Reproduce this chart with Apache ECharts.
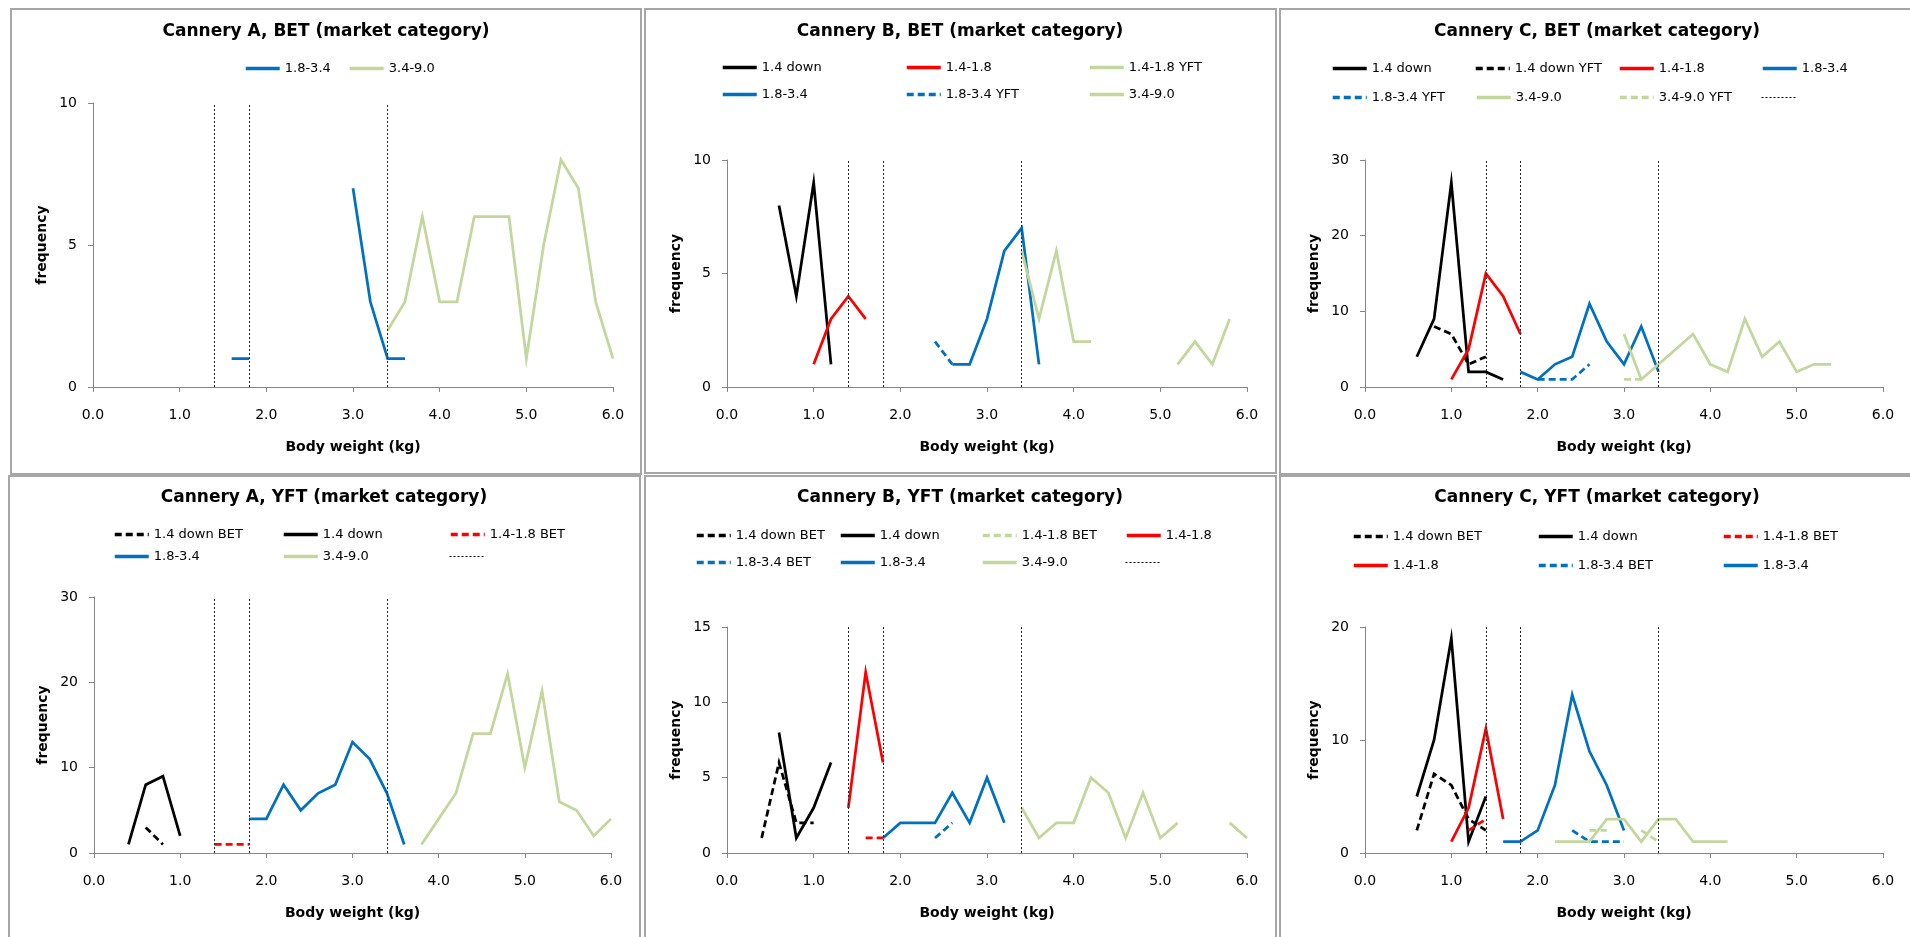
<!DOCTYPE html>
<html>
<head>
<meta charset="utf-8">
<script src="https://cdn.jsdelivr.net/npm/echarts@6/dist/echarts.min.js"></script>
<style>
  html, body { margin: 0; padding: 0; background: #ffffff; }
  #chart { width: 1910px; height: 937px; }
</style>
</head>
<body>
<div id="chart"></div>
<script>
// ---------------- DATA (body weight kg, frequency); null = gap ----------------
const refWeights = [1.4, 1.8, 3.4];
const xTicks = [0, 1, 2, 3, 4, 5, 6];

// Cannery A, BET
const aBet_18_34 = [[1.6,1],[1.8,1],null,[3.0,7],[3.2,3],[3.4,1],[3.6,1]];
const aBet_34_90 = [[3.4,2],[3.6,3],[3.8,6],[4.0,3],[4.2,3],[4.4,6],[4.6,6],[4.8,6],[5.0,1],[5.2,5],[5.4,8],[5.6,7],[5.8,3],[6.0,1]];

// Cannery B, BET
const bBet_14down = [[0.6,8],[0.8,4],[1.0,9],[1.2,1]];
const bBet_14_18 = [[1.0,1],[1.2,3],[1.4,4],[1.6,3]];
const bBet_14_18yft = [];
const bBet_18_34 = [[2.6,1],[2.8,1],[3.0,3],[3.2,6],[3.4,7],[3.6,1]];
const bBet_18_34yft = [[2.4,2],[2.6,1]];
const bBet_34_90 = [[3.4,6],[3.6,3],[3.8,6],[4.0,2],[4.2,2],null,[5.2,1],[5.4,2],[5.6,1],[5.8,3]];

// Cannery C, BET
const cBet_14down = [[0.6,4],[0.8,9],[1.0,27],[1.2,2],[1.4,2],[1.6,1]];
const cBet_14downyft = [[0.8,8],[1.0,7],[1.2,3],[1.4,4]];
const cBet_14_18 = [[1.0,1],[1.2,5],[1.4,15],[1.6,12],[1.8,7]];
const cBet_18_34 = [[1.8,2],[2.0,1],[2.2,3],[2.4,4],[2.6,11],[2.8,6],[3.0,3],[3.2,8],[3.4,2]];
const cBet_18_34yft = [[2.0,1],[2.2,1],[2.4,1],[2.6,3]];
const cBet_34_90 = [[3.0,7],[3.2,1],[3.4,3],[3.6,5],[3.8,7],[4.0,3],[4.2,2],[4.4,9],[4.6,4],[4.8,6],[5.0,2],[5.2,3],[5.4,3]];
const cBet_34_90yft = [[3.0,1],[3.2,1]];

// Cannery A, YFT
const aYft_14downbet = [[0.6,3],[0.8,1]];
const aYft_14down = [[0.4,1],[0.6,8],[0.8,9],[1.0,2]];
const aYft_14_18bet = [[1.4,1],[1.6,1],[1.8,1]];
const aYft_18_34 = [[1.8,4],[2.0,4],[2.2,8],[2.4,5],[2.6,7],[2.8,8],[3.0,13],[3.2,11],[3.4,7],[3.6,1]];
const aYft_34_90 = [[3.8,1],[4.0,4],[4.2,7],[4.4,14],[4.6,14],[4.8,21],[5.0,10],[5.2,19],[5.4,6],[5.6,5],[5.8,2],[6.0,4]];

// Cannery B, YFT
const bYft_14downbet = [[0.4,1],[0.6,6],[0.8,2],[1.0,2]];
const bYft_14down = [[0.6,8],[0.8,1],[1.0,3],[1.2,6]];
const bYft_14_18bet = [[1.6,1],[1.8,1]];
const bYft_14_18 = [[1.4,3],[1.6,12],[1.8,6]];
const bYft_18_34bet = [[2.4,1],[2.6,2]];
const bYft_18_34 = [[1.8,1],[2.0,2],[2.2,2],[2.4,2],[2.6,4],[2.8,2],[3.0,5],[3.2,2]];
const bYft_34_90 = [[3.4,3],[3.6,1],[3.8,2],[4.0,2],[4.2,5],[4.4,4],[4.6,1],[4.8,4],[5.0,1],[5.2,2],null,[5.8,2],[6.0,1]];

// Cannery C, YFT
const cYft_14downbet = [[0.6,2],[0.8,7],[1.0,6],[1.2,3],[1.4,2]];
const cYft_14down = [[0.6,5],[0.8,10],[1.0,19],[1.2,1],[1.4,5]];
const cYft_14_18bet = [[1.2,2],[1.4,3]];
const cYft_14_18 = [[1.0,1],[1.2,4],[1.4,11],[1.6,3]];
const cYft_18_34bet = [[2.4,2],[2.6,1],[2.8,1],[3.0,1]];
const cYft_18_34 = [[1.6,1],[1.8,1],[2.0,2],[2.2,6],[2.4,14],[2.6,9],[2.8,6],[3.0,2]];
const cYft_34_90 = [[2.2,1],[2.4,1],[2.6,1],[2.8,3],[3.0,3],[3.2,1],[3.4,3],[3.6,3],[3.8,1],[4.0,1],[4.2,1]];
const cYft_34_90bet = [[2.6,2],[2.8,2],null,[3.2,2],[3.4,1]];

// ---------------- STYLE ----------------
const BLACK = '#000000', RED = '#FF0000', BLUE = '#0070C0', GREEN = '#C3D69B';
const DASH = [7, 4];
const FONT = "'Comic Sans MS', 'DejaVu Sans', sans-serif";
const LW = 2.75;

const panels = [
  { title: 'Cannery A, BET (market category)', box: [11, 9, 641, 474], titleXY: [326, 34],
    grid: { left: 93, top: 103, width: 520, height: 284 }, yMax: 10, yInt: 5,
    series: [
      { name: '1.8-3.4', data: aBet_18_34, color: BLUE },
      { name: '3.4-9.0', data: aBet_34_90, color: GREEN }
    ],
    legend: [['1.8-3.4', 244, 69], ['3.4-9.0', 348, 69]] },
  { title: 'Cannery B, BET (market category)', box: [645, 9, 1276, 473], titleXY: [960, 34],
    grid: { left: 727, top: 160, width: 520, height: 227 }, yMax: 10, yInt: 5,
    series: [
      { name: '1.4 down', data: bBet_14down, color: BLACK },
      { name: '1.4-1.8', data: bBet_14_18, color: RED },
      { name: '1.4-1.8 YFT', data: bBet_14_18yft, color: GREEN },
      { name: '1.8-3.4', data: bBet_18_34, color: BLUE },
      { name: '1.8-3.4 YFT', data: bBet_18_34yft, color: BLUE, dash: true },
      { name: '3.4-9.0', data: bBet_34_90, color: GREEN }
    ],
    legend: [['1.4 down', 721, 68], ['1.4-1.8', 905, 68], ['1.4-1.8 YFT', 1088, 68],
             ['1.8-3.4', 721, 95], ['1.8-3.4 YFT', 905, 95], ['3.4-9.0', 1088, 95]] },
  { title: 'Cannery C, BET (market category)', box: [1280, 9, 1912, 474], titleXY: [1597, 34],
    grid: { left: 1365, top: 160, width: 518, height: 227 }, yMax: 30, yInt: 10,
    series: [
      { name: '1.4 down', data: cBet_14down, color: BLACK },
      { name: '1.4 down YFT', data: cBet_14downyft, color: BLACK, dash: true },
      { name: '1.4-1.8', data: cBet_14_18, color: RED },
      { name: '1.8-3.4', data: cBet_18_34, color: BLUE },
      { name: '1.8-3.4 YFT', data: cBet_18_34yft, color: BLUE, dash: true },
      { name: '3.4-9.0', data: cBet_34_90, color: GREEN },
      { name: '3.4-9.0 YFT', data: cBet_34_90yft, color: GREEN, dash: true }
    ],
    legend: [['1.4 down', 1331, 69], ['1.4 down YFT', 1474, 69], ['1.4-1.8', 1618, 69], ['1.8-3.4', 1761, 69],
             ['1.8-3.4 YFT', 1331, 98], ['3.4-9.0', 1475, 98], ['3.4-9.0 YFT', 1618, 98], [' ', 1761, 98]] },
  { title: 'Cannery A, YFT (market category)', box: [9, 476, 640, 940], titleXY: [324, 500],
    grid: { left: 94, top: 597, width: 517, height: 256 }, yMax: 30, yInt: 10,
    series: [
      { name: '1.4 down BET', data: aYft_14downbet, color: BLACK, dash: true },
      { name: '1.4 down', data: aYft_14down, color: BLACK },
      { name: '1.4-1.8 BET', data: aYft_14_18bet, color: RED, dash: true },
      { name: '1.8-3.4', data: aYft_18_34, color: BLUE },
      { name: '3.4-9.0', data: aYft_34_90, color: GREEN }
    ],
    legend: [['1.4 down BET', 113, 535], ['1.4 down', 282, 535], ['1.4-1.8 BET', 449, 535],
             ['1.8-3.4', 113, 557], ['3.4-9.0', 282, 557], [' ', 449, 557]] },
  { title: 'Cannery B, YFT (market category)', box: [645, 476, 1276, 940], titleXY: [960, 500],
    grid: { left: 727, top: 627, width: 520, height: 226 }, yMax: 15, yInt: 5,
    series: [
      { name: '1.4 down BET', data: bYft_14downbet, color: BLACK, dash: true },
      { name: '1.4 down', data: bYft_14down, color: BLACK },
      { name: '1.4-1.8 BET', data: bYft_14_18bet, color: RED, dash: true },
      { name: '1.4-1.8', data: bYft_14_18, color: RED },
      { name: '1.8-3.4 BET', data: bYft_18_34bet, color: BLUE, dash: true },
      { name: '1.8-3.4', data: bYft_18_34, color: BLUE },
      { name: '3.4-9.0', data: bYft_34_90, color: GREEN }
    ],
    legend: [['1.4 down BET', 695, 536], ['1.4 down', 839, 536], ['1.4-1.8 BET', 981, 536, GREEN], ['1.4-1.8', 1125, 536],
             ['1.8-3.4 BET', 695, 563], ['1.8-3.4', 839, 563], ['3.4-9.0', 981, 563], [' ', 1125, 563]] },
  { title: 'Cannery C, YFT (market category)', box: [1280, 476, 1912, 940], titleXY: [1597, 500],
    grid: { left: 1365, top: 627, width: 518, height: 226 }, yMax: 20, yInt: 10,
    series: [
      { name: '1.4 down BET', data: cYft_14downbet, color: BLACK, dash: true },
      { name: '1.4 down', data: cYft_14down, color: BLACK },
      { name: '1.4-1.8 BET', data: cYft_14_18bet, color: RED, dash: true },
      { name: '1.4-1.8', data: cYft_14_18, color: RED },
      { name: '1.8-3.4 BET', data: cYft_18_34bet, color: BLUE, dash: true },
      { name: '1.8-3.4', data: cYft_18_34, color: BLUE },
      { name: '3.4-9.0', data: cYft_34_90, color: GREEN },
      { name: '3.4-9.0 BET', data: cYft_34_90bet, color: GREEN, dash: true }
    ],
    legend: [['1.4 down BET', 1352, 537], ['1.4 down', 1537, 537], ['1.4-1.8 BET', 1722, 537],
             ['1.4-1.8', 1352, 566], ['1.8-3.4 BET', 1537, 566], ['1.8-3.4', 1722, 566]] }
];

// ---------------- BUILD OPTION ----------------
const option = {
  backgroundColor: '#ffffff',
  animation: false,
  title: [], legend: [], grid: [], xAxis: [], yAxis: [], series: [], graphic: []
};

const axisColor = '#868686';

panels.forEach((p, i) => {
  const [L, T, R, B] = p.box;
  option.graphic.push({
    type: 'rect', silent: true, z: -1,
    shape: { x: L, y: T, width: R - L, height: B - T },
    style: { fill: 'none', stroke: '#a6a6a6', lineWidth: 2 }
  });
  option.title.push({
    text: p.title, left: p.titleXY[0], top: p.titleXY[1] - 11, textAlign: 'center', padding: 0,
    textStyle: { fontFamily: FONT, fontWeight: 'bold', fontSize: 17, color: '#000' }
  });
  option.grid.push(Object.assign({ containLabel: false }, p.grid));
  option.xAxis.push({
    type: 'value', gridIndex: i, min: xTicks[0], max: xTicks[xTicks.length - 1], interval: 1,
    name: 'Body weight (kg)', nameLocation: 'middle', nameGap: 53,
    nameTextStyle: { fontFamily: FONT, fontWeight: 'bold', fontSize: 14, color: '#000' },
    axisLine: { show: true, onZero: false, lineStyle: { color: axisColor, width: 1 } },
    axisTick: { show: true, length: 5, lineStyle: { color: axisColor } },
    axisLabel: { margin: 21, fontFamily: FONT, fontSize: 14, color: '#000', formatter: v => v.toFixed(1) },
    splitLine: { show: false }
  });
  option.yAxis.push({
    type: 'value', gridIndex: i, min: 0, max: p.yMax, interval: p.yInt,
    name: 'frequency', nameLocation: 'middle', nameGap: 44,
    nameTextStyle: { fontFamily: FONT, fontWeight: 'bold', fontSize: 14, color: '#000' },
    axisLine: { show: true, lineStyle: { color: axisColor, width: 1 } },
    axisTick: { show: true, length: 5, lineStyle: { color: axisColor } },
    axisLabel: { margin: 16, fontFamily: FONT, fontSize: 14, color: '#000' },
    splitLine: { show: false }
  });
  // reference vertical dotted lines (category boundaries)
  option.series.push({
    name: ' ', type: 'line', xAxisIndex: i, yAxisIndex: i, data: [],
    symbol: 'none', silent: true,
    lineStyle: { color: '#000', width: 1, type: [2, 2] },
    itemStyle: { color: '#000' },
    markLine: {
      silent: true, symbol: ['none', 'none'], label: { show: false },
      lineStyle: { color: '#222', width: 1, type: [2, 2] },
      emphasis: { disabled: true },
      data: refWeights.map(w => ({ xAxis: w }))
    }
  });
  p.series.forEach(s => {
    option.series.push({
      name: s.name, type: 'line', xAxisIndex: i, yAxisIndex: i,
      data: s.data.map(pt => pt === null ? ['-', '-'] : pt),
      symbol: 'none', showSymbol: false, connectNulls: false, clip: true,
      lineStyle: { color: s.color, width: LW, type: s.dash ? DASH : 'solid', cap: 'butt', join: 'miter' },
      itemStyle: { color: s.color },
      emphasis: { disabled: true }
    });
  });
  p.legend.forEach(l => {
    const item = { name: l[0], itemStyle: { opacity: 0 } };
    item.lineStyle = l[0] === ' ' ? { width: 1 } : { width: 3.5 };
    if (l[3]) { item.lineStyle.color = l[3]; }
    option.legend.push({
      left: l[1], top: l[2] - 7, padding: 0, itemWidth: 34, itemHeight: 14,
      selectedMode: false, data: [item],
      itemStyle: { opacity: 0 },
      textStyle: { fontFamily: FONT, fontSize: 13, color: '#000' }
    });
  });
});

const chart = echarts.init(document.getElementById('chart'), null, { renderer: 'canvas' });
chart.setOption(option);
</script>
</body>
</html>
